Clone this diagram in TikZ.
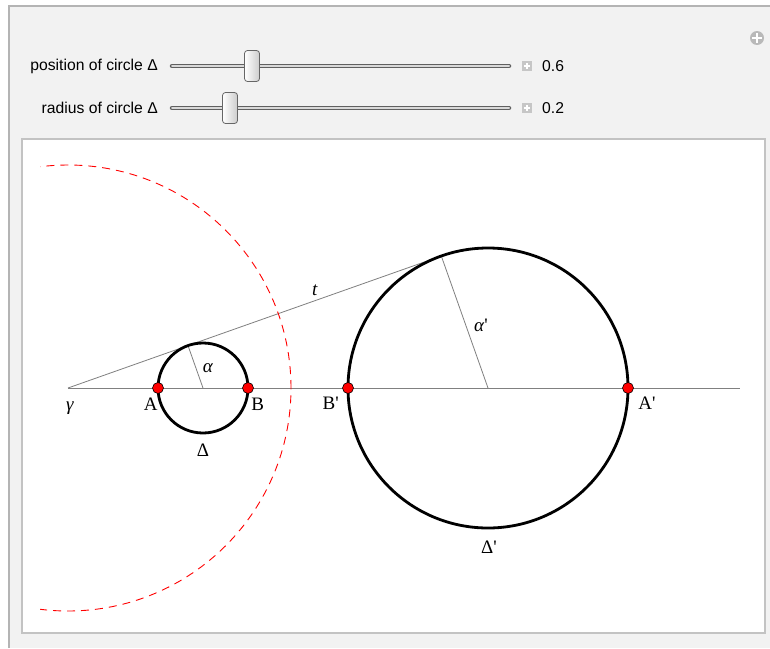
\documentclass[tikz,border=0pt]{standalone}
\usepackage{fontspec}
\setmainfont{Liberation Serif}
\newfontfamily\uifont{Liberation Sans}
\definecolor{panelgray}{HTML}{F2F2F2}
\definecolor{framegray}{HTML}{B4B4B4}
\definecolor{boxgray}{HTML}{C3C3C3}
\definecolor{linegray}{HTML}{808080}
\newcommand{\pr}{\textquotesingle}
\begin{document}
\begin{tikzpicture}[x=1pt, y=-1pt,
  point/.style = {draw, circle, fill = red, line width = 0.6pt, inner sep = 0pt, minimum size = 11pt},
  lbl/.style = {font = \fontsize{19}{22}\selectfont, inner sep = 1pt},
  ui/.style = {font = \uifont\fontsize{15.7}{18}\selectfont, inner sep = 0pt},
  thumb/.style = {draw = gray!80!black, rounded corners = 3pt, left color = white, right color = gray!40, line width = 0.8pt},
  plusbox/.style = {fill = gray!45, minimum size = 10pt, inner sep = 0pt}]
				\useasboundingbox (0,0) rectangle (770,648);
				\fill[white] (0,0) rectangle (770,648);
				\fill[panelgray] (9,6) rectangle (770,648);
				\draw[framegray, line width = 2.5pt] (9,648) -- (9,6) -- (770,6);
				\draw[boxgray, line width = 2pt, fill = white] (22,139) rectangle (765,633);
				\tikzstyle{track}=[line cap = round]
				\foreach \y/\tx/\val/\pos in {66/position of circle Δ/0.6/252, 108/radius of circle Δ/0.2/230} {
					\node[ui, anchor = east] at (158,\y) {\tx};
					\draw[track, gray!75!black, line width = 4.5pt] (172,\y) -- (509,\y);
					\draw[track, gray!30, line width = 2pt] (172,\y) -- (509,\y);
					\draw[thumb] (\pos-7.5,\y-15.5) rectangle (\pos+7.5,\y+15.5);
					\node[plusbox] at (527,\y) {};
					\draw[white, line width = 1.2pt] (524,\y) -- (530,\y) (527,\y-3) -- (527,\y+3);
					\node[ui, anchor = west] at (542,\y) {\val};
				}
				\node (more) [circle, fill = gray!55, minimum size = 14pt, inner sep = 0pt] at (757,38) {};
				\draw[white, line width = 2pt] (752,38) -- (762,38) (757,33) -- (757,43);
				\coordinate (gamma) at (68,388);
				\coordinate (c) at (203,388);
				\coordinate (cp) at (488,388);
				\coordinate (T) at (188.0,345.6);
				\coordinate (Tp) at (441.3,256.0);
				\coordinate (axisend) at (740,388);
				\draw[linegray, line width = 0.8pt] (gamma) -- (axisend);
				\draw[linegray, line width = 0.8pt] (gamma) -- (Tp);
				\draw[linegray, line width = 0.8pt] (c) -- (T);
				\draw[linegray, line width = 0.8pt] (cp) -- (Tp);
				\begin{scope}
					\clip (40,140) rectangle (764,632);
					\draw[red, line width = 0.9pt, dash pattern = on 8pt off 6pt] (gamma) circle (223pt);
				\end{scope}
				\draw[line width = 2.8pt] (c) circle (45pt);
				\draw[line width = 2.8pt] (cp) circle (140pt);
				\node (A) at (158,388) [point, label = {[lbl, xshift = 5pt, yshift = -4.5pt]below left:A}] {};
				\node (B) at (248,388) [point, label = {[lbl, xshift = -2pt, yshift = -4.5pt]below right:B}] {};
				\node (Bp) at (348,388) [point, label = {[lbl, xshift = -4pt, yshift = -4pt]below left:B\pr}] {};
				\node (Ap) at (628,388) [point, label = {[lbl, xshift = 5pt, yshift = -4pt]below right:A\pr}] {};
				\node (gammalabel) [lbl] at (70,408) {\textit{γ}};
				\node (alpha) [lbl] at (208,368) {\textit{α}};
				\node (alphap) [lbl] at (481,325) {\textit{α}\pr};
				\node (tlabel) [lbl] at (315,290) {\textit{t}};
				\node (Delta) [lbl] at (203,450) {Δ};
				\node (Deltap) [lbl] at (489,547) {Δ\pr};
				\end{tikzpicture}
\end{document}
